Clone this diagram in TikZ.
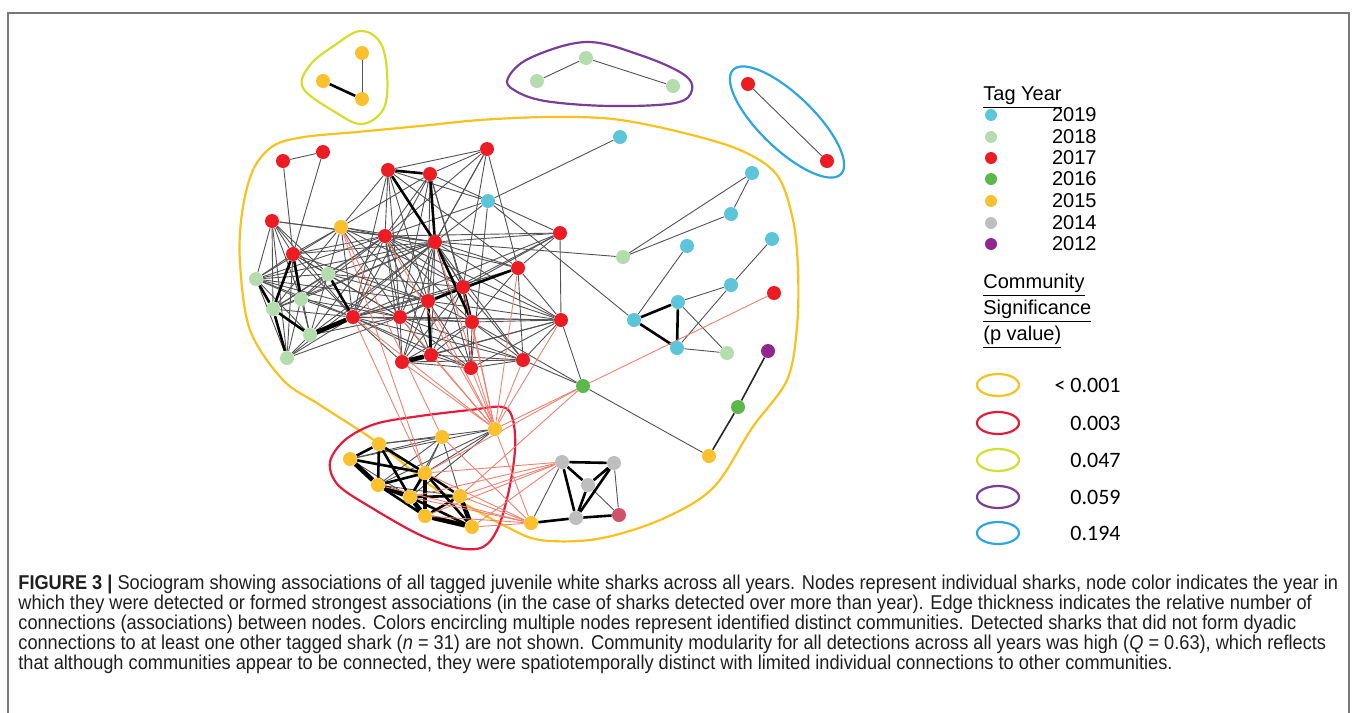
\documentclass[tikz,border=0pt]{standalone}
\usepackage{fontspec}
\setmainfont{Liberation Sans}
\newfontfamily\capfont[FakeStretch=0.91]{Liberation Sans}
\newfontfamily\calfont{Carlito}
\usetikzlibrary{positioning, backgrounds}

%% colours of the tag years and of the communities
\definecolor{yr19}{RGB}{92,197,218}
\definecolor{yr18}{RGB}{180,220,175}
\definecolor{yr17}{RGB}{236,28,36}
\definecolor{yr16}{RGB}{92,184,72}
\definecolor{yr15}{RGB}{251,192,45}
\definecolor{yr14}{RGB}{190,190,190}
\definecolor{yr12}{RGB}{142,40,142}
\definecolor{yrpk}{RGB}{208,82,106}
\definecolor{hgold}{RGB}{248,194,30}
\definecolor{hred}{RGB}{226,28,58}
\definecolor{hlime}{RGB}{212,222,44}
\definecolor{hpurple}{RGB}{122,62,152}
\definecolor{hblue}{RGB}{44,166,222}
\definecolor{salmon}{RGB}{240,128,112}
\definecolor{framegray}{RGB}{120,120,120}

\begin{document}
\begin{tikzpicture}[
    x=0.5pt, y=-0.5pt,
    shark/.style  = {circle, inner sep=0pt, minimum size=7pt},
    legdot/.style = {circle, inner sep=0pt, minimum size=6pt},
    lnk/.style    = {black!68, line width=0.45pt},
    lnkm/.style   = {black!85, line width=0.8pt},
    lnkb/.style   = {black, line width=1.3pt},
    lnkbb/.style  = {black, line width=2.3pt},
    xlnk/.style   = {salmon, line width=0.45pt},
    hull/.style   = {line width=1.1pt},
    legtxt/.style = {inner sep=0pt, font=\fontsize{10}{12}\selectfont},
    pval/.style   = {inner sep=0pt, font=\calfont\fontsize{11}{13}\selectfont}
]
\useasboundingbox (0,0) rectangle (1357,713);

%% ── Frame ───────────────────────────────────────────────────────────────────
\draw[framegray, line width=0.8pt] (8,713) -- (8,13) -- (1349,13) -- (1349,713);

%% ── Sharks ──────────────────────────────────────────────────────────────────
\foreach \n/\x/\y/\c in {
    t1/362/53/yr15, t2/323/81/yr15, t3/362/99/yr15,
    pa/537/81/yr18, pb/586/58/yr18, pc/673/86/yr18,
    bl1/748/84/yr17, bl2/827/161/yr17,
    r1/283/161/yr17, r2/323/152/yr17, r3/272/221/yr17, r4/293/254/yr17,
    y1/341/227/yr15, r5/388/170/yr17, r6/430/174/yr17, r7/385/236/yr17,
    r8/435/242/yr17, g1/256/279/yr18, g2/328/274/yr18, g3/301/299/yr18,
    g4/273/309/yr18, g5/310/335/yr18, g6/287/358/yr18, r9/353/317/yr17,
    r10/400/317/yr17, r11/428/301/yr17, r12/463/287/yr17, r13/402/362/yr17,
    r14/431/355/yr17, r15/472/322/yr17, r16/471/368/yr17, r17/518/268/yr17,
    r18/560/233/yr17, r19/561/320/yr17, r20/523/360/yr17, r21/487/149/yr17,
    b1/488/201/yr19, gr1/583/386/yr16, b2/620/137/yr19, lg1/623/257/yr18,
    b3/752/173/yr19, b4/731/214/yr19, b5/687/246/yr19, b6/772/239/yr19,
    b7/731/285/yr19, b8/678/302/yr19, b9/634/320/yr19, b10/677/348/yr19,
    lg2/727/353/yr18, r22/774/293/yr17, p1/768/351/yr12, gr2/738/407/yr16,
    yo/709/456/yr15, gy1/562/462/yr14, gy2/614/463/yr14, gy3/588/485/yr14,
    gy4/576/518/yr14, pk/619/515/yrpk, yb/531/523/yr15,
    y2/495/429/yr15, y3/442/437/yr15, y4/379/444/yr15, y5/350/459/yr15,
    y6/425/473/yr15, y7/378/485/yr15, y8/410/497/yr15, y9/460/496/yr15,
    y10/425/516/yr15, y11/472/527/yr15}
  \node[shark, fill=\c] (\n) at (\x,\y) {};

\begin{scope}[on background layer]
%% ── Communities ─────────────────────────────────────────────────────────────
\draw[hull, hgold] plot[smooth cycle, tension=0.55] coordinates {
    (242,213) (253,170) (273,146) (304,137) (357,132) (420,126) (480,120)
    (547,117) (613,119) (680,132) (740,150) (777,175) (793,220) (798,270)
    (797,327) (787,380) (752,428) (713,488) (660,520) (597,539) (540,540)
    (505,526) (470,507) (430,485) (378,443) (320,405) (283,380) (250,330)
    (240,263)};
\draw[hull, hred] plot[smooth cycle, tension=0.55] coordinates {
    (330,462) (345,440) (375,424) (420,416) (470,410) (503,407) (513,420)
    (515,450) (509,490) (498,528) (483,547) (458,548) (420,535) (372,508)
    (338,485)};
\draw[hull, hlime] plot[smooth cycle, tension=0.6] coordinates {
    (360,31) (380,42) (387,72) (384,108) (362,124) (335,112) (303,88)
    (310,65) (335,45)};
\draw[hull, hpurple] plot[smooth cycle, tension=0.6] coordinates {
    (508,78) (530,58) (586,42) (640,55) (683,74) (692,90) (675,103)
    (610,106) (545,101) (514,90)};
\draw[hull, hblue, rotate around={-44:(787,122)}] (787,122)
    ellipse [x radius=75, y radius=27];

%% ── Associations ────────────────────────────────────────────────────────────
\foreach \a/\b in {
    t1/t3, pa/pb, pb/pc, bl1/bl2,
    r1/r2, r1/r4, r2/r4, r3/r4, r3/g1, r3/g3, r3/g4, r3/g2, r3/r9, r3/g6,
    r3/r7, r3/r8, r4/g1, r4/g5, r4/g6, r4/g2, r4/r9, r4/r7, r4/y1, r4/r8,
    r4/r10, r4/r11,
    g1/g3, g1/g5, g1/g6, g1/r9, g1/g2, g1/r7, g1/y1, g1/r10, g1/r8, g1/r11,
    g2/g4, g2/g3, g2/y1, g2/r7, g2/r8, g2/g5, g2/r10, g2/r11, g2/r12,
    g3/g4, g3/g5, g3/r9, g3/g6, g3/r8, g3/r7, g3/r10, g5/g6, g6/r9, g4/r9,
    g4/y1, g4/r7, g4/r8, g5/r7, g5/r8, g5/r10, g6/r8, g6/r10,
    y1/r7, y1/r9, y1/r5, y1/r10, y1/r8, y1/r11, y1/r12, y1/r6,
    r5/r7, r5/r10, r5/r11, r5/r12, r5/r17, r5/r9,
    r6/r7, r6/r10, r6/r11, r6/r12, r6/r15, r6/r18, r6/r9,
    r7/r8, r7/r9, r7/r10, r7/r11, r7/r12, r7/r13, r7/r14, r7/r15, r7/r17,
    r7/r18, r7/r19, r7/r21, r7/b1,
    r8/r9, r8/r10, r8/r11, r8/r12, r8/r13, r8/r14, r8/r16, r8/r17, r8/r18,
    r8/r19, r8/r20, r8/r21, r8/lg1,
    r9/r10, r9/r11, r9/r12, r9/r13, r9/r14, r9/r15, r9/r17, r9/r19, r9/r18,
    r9/r16, r9/r20, r10/r11, r10/r13, r10/r14, r10/r15, r10/r16, r10/r12,
    r10/r19, r10/r20, r10/r18, r11/r12, r11/r13, r11/r15, r11/r16, r11/r19,
    r12/r13, r12/r14, r12/r16, r12/r17, r12/r19, r12/r20, r12/r18,
    r13/r15, r13/r16, r13/r20, r13/r19, r14/r15, r14/r16, r14/r20, r14/r19,
    r15/r16, r15/r19, r15/r20, r15/r17, r16/r20, r16/r19,
    r17/r19, r17/r18, r17/r20, r17/r21, r18/r19, r19/r20,
    r21/r5, r21/r8, r21/r6, r21/r12,
    b1/r5, b1/r8, b1/r16, b1/b2, b1/b9, r19/gr1, r15/gr1, r20/gr1,
    lg1/b3, lg1/b4, b3/b4, b9/b5, b8/b7, b8/lg2, b10/lg2, b10/b7, b7/b6,
    gr1/yo, gy1/yb, gy2/pk, gy3/pk,
    y5/y8, y7/y9, y3/y4, y3/y5, y3/y6, y3/y7, y3/y8, y3/y9,
    y2/y4, y2/y5, y2/y6, y2/y7, y2/y8}
  \draw[lnk] (\a) -- (\b);
\foreach \a/\b in {p1/gr2, gr2/yo}
  \draw[lnkm] (\a) -- (\b);
\foreach \a/\b in {
    t2/t3, r5/r6, r6/r8, r5/r8, r4/g4, r4/g3, g1/g4, g4/g5, g4/g6, g2/r9,
    r8/r15, r11/r17, r12/r15, r11/r14, b9/b8, b9/b10, b8/b10,
    gy1/gy2, gy1/gy3, gy1/gy4, gy2/gy3, gy2/gy4, gy3/gy4, gy4/pk, yb/gy4,
    y4/y5, y4/y6, y4/y7, y6/y7, y6/y8, y6/y9, y8/y9, y7/y10, y9/y10,
    y5/y6, y4/y8, y8/y11, y6/y11}
  \draw[lnkb] (\a) -- (\b);
\foreach \a/\b in {g5/r9, r13/r14, y5/y7, y7/y8, y8/y10, y10/y11, y9/y11,
    y6/y10}
  \draw[lnkbb] (\a) -- (\b);
\foreach \a/\b in {
    y2/r7, y2/r8, y2/r9, y2/r10, y2/r11, y2/r12, y2/r13, y2/r14, y2/r15,
    y2/r16, y2/r17, y2/r19, y2/r20, y1/y3, y1/y6, r9/y6, r22/y2,
    gr1/y9, gr1/y6, gy1/y6, gy1/y8, gy1/y9, gy1/y10, gy1/y11,
    yb/y2, yb/y3, yb/y6, yb/y7, yb/y8, yb/y9, yb/y10, yb/y11}
  \draw[xlnk] (\a) -- (\b);
\end{scope}

%% ── Legend: tag year ────────────────────────────────────────────────────────
\node[legtxt, anchor=base west] (tagyear) at (983,100) {\underline{Tag Year}};
\foreach \yr/\c/\yy in {2019/yr19/115, 2018/yr18/137, 2017/yr17/158,
    2016/yr16/179, 2015/yr15/201, 2014/yr14/223, 2012/yr12/244} {
  \node[legdot, fill=\c] (dot\yr) at (991,\yy) {};
  \node[legtxt, anchor=east] (lab\yr) at (1097,\yy) {\yr};
}

%% ── Legend: community significance ──────────────────────────────────────────
\node[legtxt, anchor=base west] (comm) at (983,288) {\underline{Community}};
\node[legtxt, anchor=base west] (signif) at (983,314) {\underline{Significance}};
\node[legtxt, anchor=base west] (pvalue) at (983,340) {\underline{(p value)}};
\foreach \c/\pv/\yy in {hgold/{< 0.001}/385, hred/0.003/423, hlime/0.047/460,
    hpurple/0.059/497, hblue/0.194/533} {
  \draw[hull, \c] (998,\yy) ellipse [x radius=21, y radius=11];
  \node[pval, anchor=east] at (1121,\yy) {\pv};
}

%% ── Caption ─────────────────────────────────────────────────────────────────
\node[anchor=north west, align=left, inner sep=0pt, text=black!88,
      font=\capfont\fontsize{10}{10}\selectfont] (caption) at (18,575) {%
\textbf{FIGURE 3 |} Sociogram showing associations of all tagged juvenile white sharks across all years. Nodes represent individual sharks, node color indicates the year in\\
which they were detected or formed strongest associations (in the case of sharks detected over more than year). Edge thickness indicates the relative number of\\
connections (associations) between nodes. Colors encircling multiple nodes represent identified distinct communities. Detected sharks that did not form dyadic\\
connections to at least one other tagged shark (\textit{n} = 31) are not shown. Community modularity for all detections across all years was high (\textit{Q} = 0.63), which reflects\\
that although communities appear to be connected, they were spatiotemporally distinct with limited individual connections to other communities.};

\end{tikzpicture}
\end{document}
